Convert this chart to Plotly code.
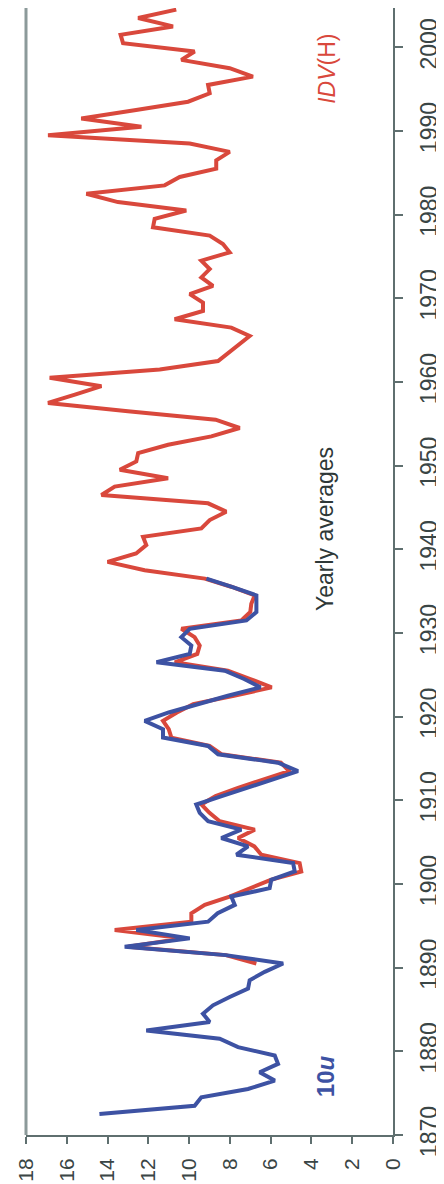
import plotly.graph_objects as go

# Yearly averages (plotted at mid-year)
years_10u = list(range(1872, 1937))
vals_10u = [14.4, 9.73, 9.40, 7.11, 5.80, 6.54, 5.64, 5.80, 7.6, 8.5,
            12.1, 8.99, 9.32, 8.83, 8.01, 7.11, 7.03, 6.29, 5.39, 8.2,
            13.16, 9.97, 12.59, 9.07, 8.6, 7.76, 7.93, 6.05, 5.97, 4.82,
            4.9, 7.68, 7.11, 8.42, 7.44, 9.07, 9.48, 9.65, 8.4, 7.1,
            5.9, 4.66, 5.64, 8.58, 9.07, 11.28, 11.28, 12.18, 11.0, 9.56,
            8.1, 6.5, 7.3, 8.25, 11.6, 9.97, 9.89, 10.38, 9.97, 7.19,
            6.70, 6.70, 6.70, 7.9, 9.15]

years_idv = list(range(1890, 2005))
vals_idv = [6.7, 8.2, 13.0, 10.3, 13.65, 9.89, 9.89, 9.23, 8.01, 7.0,
            6.0, 4.5, 4.58, 6.46, 6.8, 7.6, 6.78, 8.5, 9.0, 9.4,
            8.7, 7.6, 6.3, 5.1, 5.5, 8.4, 9.0, 10.87, 11.0, 11.28,
            10.6, 9.8, 7.8, 5.95, 7.0, 8.1, 10.7, 9.6, 9.48, 9.73,
            10.38, 7.44, 7.0, 6.95, 6.78, 7.9, 9.23, 12.18, 14.0, 12.6,
            12.1, 12.26, 9.40, 8.99, 8.18, 9.07, 14.3, 13.65, 11.03, 13.4,
            12.59, 12.5, 11.03, 8.91, 7.52, 8.7, 13.0, 16.92, 15.6, 14.3,
            16.84, 11.44, 8.58, 8.06, 7.55, 7.03, 7.93, 10.71, 9.32, 9.32,
            9.97, 8.83, 9.40, 8.99, 9.40, 8.01, 8.34, 8.99, 11.77, 11.69,
            10.14, 13.49, 15.04, 11.2, 10.46, 8.67, 8.67, 8.01, 9.97, 16.92,
            12.34, 15.29, 12.6, 10.05, 8.99, 9.07, 6.87, 8.01, 10.38, 9.73,
            13.24, 13.36, 10.79, 12.5, 10.63]

value_ticks = list(range(0, 19, 2))
year_ticks = list(range(1870, 2001, 10))

RED = "#d9483c"
BLUE = "#3d52a3"
FONT = "Liberation Sans, Arial, sans-serif"

fig = go.Figure()
fig.add_trace(go.Scatter(x=vals_idv, y=[y + 0.5 for y in years_idv], mode="lines",
                         line=dict(color=RED, width=4), name="IDV(H)"))
fig.add_trace(go.Scatter(x=vals_10u, y=[y + 0.5 for y in years_10u], mode="lines",
                         line=dict(color=BLUE, width=4), name="10u"))

fig.update_layout(
    width=444, height=1184,
    margin=dict(l=18, r=59, t=0, b=57),
    paper_bgcolor="white", plot_bgcolor="white",
    showlegend=False,
    font=dict(family=FONT, color="#3a4545"),
    xaxis=dict(range=[18, 0], tickvals=value_ticks, tickangle=-90,
               ticks="outside", ticklen=7, tickwidth=2, tickcolor="#5f6f6f",
               showline=True, linecolor="#5f6f6f", linewidth=2,
               showgrid=False, zeroline=False,
               tickfont=dict(size=21, family=FONT, color="#3a4545"),
               ticklabelstandoff=6),
    yaxis=dict(range=[1870, 2004.7], tickvals=year_ticks, side="right",
               tickangle=-90, ticks="outside", ticklen=8, tickwidth=2,
               tickcolor="#5f6f6f", showline=True, linecolor="#5f6f6f",
               linewidth=2, showgrid=False, zeroline=False,
               tickfont=dict(size=23, family=FONT, color="#3a4545"),
               ticklabelstandoff=6),
)

fig.add_shape(type="line", xref="paper", yref="paper", x0=0, x1=0, y0=0, y1=1,
              line=dict(color="#8c9a9a", width=3))

fig.add_annotation(x=3.3, y=1942.4, text="Yearly averages", showarrow=False,
                   textangle=-90, font=dict(size=23, family=FONT, color="#2e3838"))
fig.add_annotation(x=3.25, y=1997.4, text="<i>IDV</i>(H)", showarrow=False,
                   textangle=-90, font=dict(size=23, family=FONT, color=RED))
fig.add_annotation(x=3.3, y=1877.0, text="<b>10<i>u</i></b>", showarrow=False,
                   textangle=-90, font=dict(size=24, family=FONT, color=BLUE))

fig.write_html("out.html")
